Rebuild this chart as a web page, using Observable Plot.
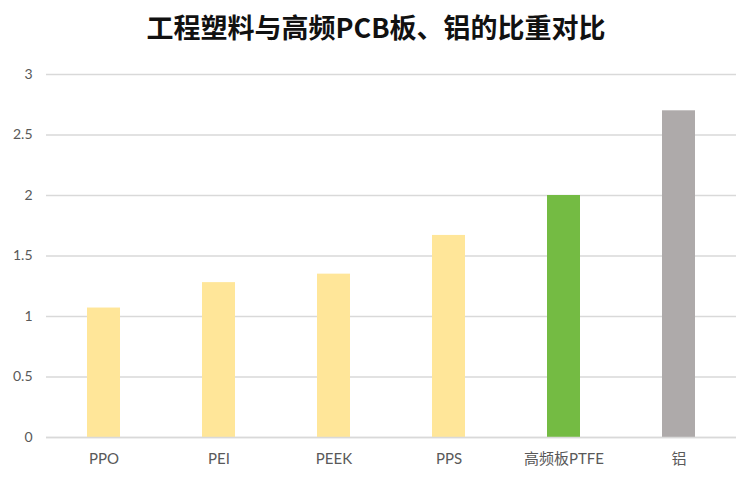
<!DOCTYPE html>
<html><head><meta charset="utf-8">
<script src="https://cdn.jsdelivr.net/npm/d3@7"></script>
<script src="https://cdn.jsdelivr.net/npm/@observablehq/plot@0.6"></script>
<style>
body{margin:0;background:#fff;font-family:"Noto Sans CJK SC","Noto Sans",sans-serif;}
#title{height:50px;line-height:54px;text-align:center;font-size:27px;font-weight:600;color:#111;font-family:"Noto Sans CJK SC",sans-serif;}
</style></head>
<body>
<div id="title">工程塑料与高频PCB板、铝的比重对比</div>
<div id="chart"></div>
<script>
const categories = ["PPO","PEI","PEEK","PPS","高频板PTFE","铝"];
const values = [1.07, 1.28, 1.35, 1.67, 2.0, 2.7];
const colors = ["#FFE699","#FFE699","#FFE699","#FFE699","#74BB43","#AEAAAA"];
const yTicks = [0,0.5,1,1.5,2,2.5,3];
const yTickLabels = ["0","0.5","1","1.5","2","2.5","3"];

const data = categories.map((c,i)=>({cat:c, val:values[i], col:colors[i]}));
const fontFam = 'Lato,"Noto Sans CJK SC",sans-serif';

const chart = Plot.plot({
  width: 752, height: 432,
  marginTop: 24, marginBottom: 45, marginLeft: 46, marginRight: 16,
  style: {fontFamily: fontFam, fontSize: "14px", color: "#595959"},
  x: {domain: categories, paddingInner: 0.713, paddingOuter: 0.3565, label: null, tickSize: 0, tickPadding: 16},
  y: {domain: [0,3], ticks: yTicks, tickFormat: (d)=>yTickLabels[yTicks.indexOf(d)], label: null, tickSize: 0, tickPadding: 14},
  marks: [
    Plot.gridY(yTicks, {stroke: "#D9D9D9", strokeOpacity: 1, strokeWidth: 1.3}),
    Plot.barY(data, {x: "cat", y: "val", fill: "col"}),
    Plot.ruleY([0], {stroke: "#D9D9D9", strokeWidth: 1.5}),
    Plot.axisX({tickSize: 0, tickPadding: 16, fontSize: 15, fill: "#595959"}),
    Plot.axisY({ticks: yTicks, tickFormat: (d)=>yTickLabels[yTicks.indexOf(d)], tickSize: 0, tickPadding: 14, fontSize: 14, fill: "#595959"})
  ]
});
document.getElementById("chart").appendChild(chart);
</script>
</body></html>
